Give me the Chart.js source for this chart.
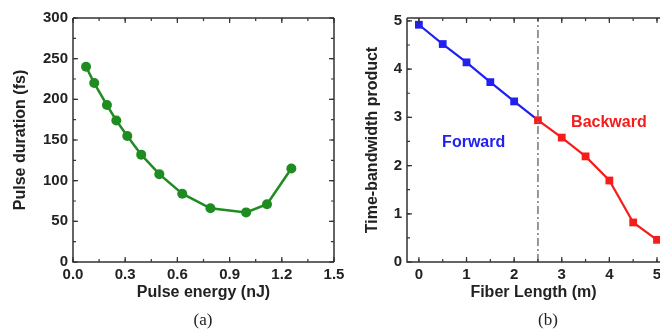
<!DOCTYPE html>
<html>
<head>
<meta charset="utf-8">
<script src="https://cdn.jsdelivr.net/npm/chart.js@4.4.1/dist/chart.umd.min.js"></script>
<style>
  html, body { margin: 0; padding: 0; background: #fff; }
  #wrap { position: relative; width: 660px; height: 332px; overflow: hidden; }
  canvas { position: absolute; top: 0; }
  #ca { left: 0; }
  #cb { left: 340px; }
  .cap { position: absolute; top: 310px; width: 60px; text-align: center;
         font: 17px "Liberation Serif", "Times New Roman", serif; color: #222; }
</style>
</head>
<body>
<div id="wrap">
  <canvas id="ca" width="370" height="332"></canvas>
  <canvas id="cb" width="320" height="332"></canvas>
  <div class="cap" style="left:173px">(a)</div>
  <div class="cap" style="left:518px">(b)</div>
</div>
<script>
/* ---------- DATA (a) ---------- */
const energy = [0.075, 0.122, 0.195, 0.249, 0.312, 0.392, 0.496, 0.628, 0.79, 0.995, 1.115, 1.255];
const duration = [240, 220, 193, 174, 155, 132, 108, 84, 66, 61, 71, 115];
const ticksAX = [0, 0.3, 0.6, 0.9, 1.2, 1.5];
const ticksAY = [0, 50, 100, 150, 200, 250, 300];

/* ---------- DATA (b) ---------- */
const lenForward = [0, 0.5, 1, 1.5, 2, 2.5];
const tbpForward = [4.92, 4.52, 4.14, 3.73, 3.33, 2.94];
const lenBackward = [2.5, 3, 3.5, 4, 4.5, 5];
const tbpBackward = [2.94, 2.58, 2.19, 1.69, 0.82, 0.46];
const splitAt = 2.5;
const ticksBX = [0, 1, 2, 3, 4, 5];
const ticksBY = [0, 1, 2, 3, 4, 5];

const FONT = '"Liberation Sans", Arial, sans-serif';
const INK = "#222";
const GREEN = "#1f8c22";
const BLUE = "#2020f0";
const RED = "#f61c1c";

const pts = (xs, ys) => xs.map((x, i) => ({ x, y: ys[i] }));

/* ---------- inward tick marks + frame ---------- */
const frame = {
  id: "frame",
  afterDraw(chart, args, o) {
    const { ctx, chartArea: a, scales: { x, y } } = chart;
    ctx.save();
    ctx.strokeStyle = "#333";
    ctx.lineWidth = 1.5;
    ctx.beginPath();
    ctx.moveTo(a.left, a.top); ctx.lineTo(a.left, a.bottom); ctx.lineTo(a.right, a.bottom);
    ctx.moveTo(a.left, a.top); ctx.lineTo(a.right, a.top);
    if (o.rightEdge) { ctx.moveTo(a.right, a.top); ctx.lineTo(a.right, a.bottom); }
    ctx.stroke();

    const mark = (scale, step, len) => {
      const n0 = Math.ceil(scale.min / step - 1e-6);
      const n1 = Math.floor(scale.max / step + 1e-6);
      ctx.beginPath();
      for (let n = n0; n <= n1; n++) {
        const p = scale.getPixelForValue(n * step);
        if (scale.isHorizontal()) {
          ctx.moveTo(p, a.bottom); ctx.lineTo(p, a.bottom - len);
          ctx.moveTo(p, a.top); ctx.lineTo(p, a.top + len);
        } else {
          ctx.moveTo(a.left, p); ctx.lineTo(a.left + len, p);
          if (o.rightEdge) { ctx.moveTo(a.right, p); ctx.lineTo(a.right - len, p); }
        }
      }
      ctx.stroke();
    };
    ctx.lineWidth = 1.2;
    mark(x, o.xMajor, 5); mark(x, o.xMajor / 2, 3);
    mark(y, o.yMajor, 5); mark(y, o.yMajor / 2, 3);

    (o.notes || []).forEach(t => {
      ctx.fillStyle = t.color;
      ctx.font = "bold 16px " + FONT;
      ctx.textAlign = "center";
      ctx.textBaseline = "middle";
      ctx.fillText(t.text, x.getPixelForValue(t.x), y.getPixelForValue(t.y));
    });
    ctx.restore();
  }
};

function axis(opts) {
  return {
    type: "linear",
    min: opts.min,
    max: opts.max,
    grid: { display: false, drawTicks: false },
    border: { display: false },
    afterBuildTicks: s => { s.ticks = opts.ticks.map(v => ({ value: v })); },
    afterFit: s => {
      if (opts.width) s.width = opts.width;
      if (opts.height) s.height = opts.height;
      // keep label overhang from shrinking the plot area
      s.paddingLeft = s.paddingRight = s.paddingTop = s.paddingBottom = 0;
    },
    ticks: {
      color: INK,
      padding: opts.pad,
      font: { family: FONT, size: 15, weight: "bold" },
      callback: opts.fmt
    },
    title: {
      display: true,
      text: opts.title,
      color: INK,
      padding: opts.titlePad,
      font: { family: FONT, size: 16, weight: "bold" }
    }
  };
}

/* ---------- chart (a) ---------- */
new Chart(document.getElementById("ca"), {
  type: "scatter",
  data: {
    datasets: [{
      data: pts(energy, duration),
      showLine: true,
      borderColor: GREEN,
      backgroundColor: GREEN,
      borderWidth: 2.5,
      pointRadius: 5,
      pointBorderWidth: 0
    }]
  },
  options: {
    responsive: false,
    animation: false,
    devicePixelRatio: 1,
    layout: { autoPadding: false, padding: { left: 0, right: 36, top: 18, bottom: 0 } },
    plugins: { legend: { display: false }, tooltip: { enabled: false },
               frame: { xMajor: 0.3, yMajor: 50, rightEdge: true } },
    scales: {
      x: axis({ min: 0, max: 1.5, ticks: ticksAX, height: 70, pad: 4,
                fmt: v => v.toFixed(1), title: "Pulse energy (nJ)", titlePad: { bottom: 30 } }),
      y: axis({ min: 0, max: 300, ticks: ticksAY, width: 73, pad: 5,
                fmt: v => v, title: "Pulse duration (fs)", titlePad: { top: 11 } })
    }
  },
  plugins: [frame]
});

/* ---------- chart (b) ---------- */
new Chart(document.getElementById("cb"), {
  type: "scatter",
  data: {
    datasets: [{
      data: [{ x: splitAt, y: 0 }, { x: splitAt, y: 5.06 }],
      showLine: true,
      borderColor: "#777",
      borderWidth: 1.5,
      borderDash: [8, 3, 2, 3],
      pointRadius: 0
    }, {
      data: pts(lenBackward, tbpBackward),
      showLine: true,
      borderColor: RED,
      backgroundColor: RED,
      borderWidth: 2.2,
      pointStyle: "rect",
      pointRadius: 5.5,
      pointBorderWidth: 0,
      clip: false
    }, {
      data: pts(lenForward, tbpForward),
      showLine: true,
      borderColor: BLUE,
      backgroundColor: BLUE,
      borderWidth: 2.2,
      pointStyle: "rect",
      pointRadius: lenForward.map(v => (v < splitAt ? 5.5 : 0)),
      pointBorderWidth: 0
    }]
  },
  options: {
    responsive: false,
    animation: false,
    devicePixelRatio: 1,
    layout: { autoPadding: false, padding: { left: 0, right: 0, top: 18, bottom: 0 } },
    plugins: {
      legend: { display: false }, tooltip: { enabled: false },
      frame: {
        xMajor: 1, yMajor: 1, rightEdge: false,
        notes: [
          { text: "Forward", x: 1.15, y: 2.47, color: BLUE },
          { text: "Backward", x: 3.99, y: 2.9, color: RED }
        ]
      }
    },
    scales: {
      x: axis({ min: -0.25, max: 5.063, ticks: ticksBX, height: 70, pad: 4,
                fmt: v => v, title: "Fiber Length (m)", titlePad: { bottom: 30 } }),
      y: axis({ min: 0, max: 5.06, ticks: ticksBY, width: 67, pad: 5,
                fmt: v => v, title: "Time-bandwidth product", titlePad: { top: 23 } })
    }
  },
  plugins: [frame]
});
</script>
</body>
</html>
